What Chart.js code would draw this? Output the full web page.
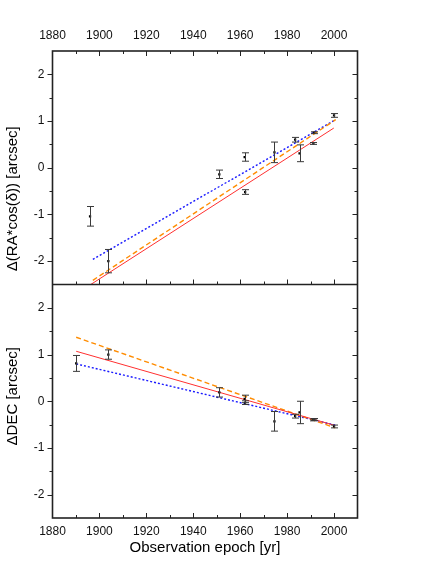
<!DOCTYPE html>
<html>
<head>
<meta charset="utf-8">
<script src="https://cdn.jsdelivr.net/npm/chart.js@4.4.0/dist/chart.umd.min.js"></script>
<style>
  html, body { margin: 0; padding: 0; background: #fff; }
  #wrap { width: 436px; height: 564px; }
</style>
</head>
<body>
<div id="wrap"><canvas id="chart" width="436" height="564"></canvas></div>
<script>
// RA offsets, top panel
const raEpochs = [1896.0, 1903.8, 1951.1, 1961.9, 1962.1, 1974.6, 1983.4, 1985.3, 1991.5, 1991.2, 2000.0];
const raValues = [-1.04, -2.00, -0.14, 0.23, -0.52, 0.33, 0.60, 0.31, 0.75, 0.52, 1.12];
const raErrors = [0.21, 0.25, 0.09, 0.09, 0.05, 0.22, 0.05, 0.18, 0.02, 0.02, 0.04];

// DEC offsets, bottom panel
const decEpochs = [1890.1, 1903.8, 1951.1, 1961.9, 1962.1, 1974.6, 1983.4, 1985.3, 1991.5, 1991.2, 2000.0];
const decValues = [0.81, 1.00, 0.19, 0.05, -0.03, -0.43, -0.32, -0.24, -0.39, -0.40, -0.54];
const decErrors = [0.17, 0.10, 0.10, 0.08, 0.04, 0.21, 0.04, 0.24, 0.02, 0.02, 0.03];

// fitted lines (end points)
const raRedEpochs = [1896.3, 1999.9];
const raRedFit = [-2.50, 0.85];
const raFitEpochs = [1897.2, 2000.7];
const raOrangeFit = [-2.41, 1.03];
const raBlueFit = [-1.96, 1.03];

const decFitEpochs = [1890.1, 2000.5];
const decOrangeFit = [1.37, -0.57];
const decRedFit = [1.07, -0.52];
const decBlueFit = [0.80, -0.51];

// ticks
const xTickLabels = [1880, 1900, 1920, 1940, 1960, 1980, 2000];
const yTickLabels = [-2, -1, 0, 1, 2];

const FONT = 'Liberation Sans, Arial, sans-serif';

function pts(xs, ys) {
  return xs.map((x, i) => ({ x: x, y: ys[i] }));
}

function lineSet(xs, ys, color, dash, width, axis) {
  return {
    type: 'line', data: pts(xs, ys), yAxisID: axis,
    borderColor: color, borderWidth: width, borderDash: dash,
    pointRadius: 0, fill: false, tension: 0, order: 2
  };
}

function pointSet(xs, ys, errs, axis) {
  return {
    type: 'scatter', data: pts(xs, ys), yAxisID: axis, errors: errs,
    pointStyle: 'rect', pointRadius: 1.6, backgroundColor: '#000', borderColor: '#000',
    borderWidth: 0, order: 1
  };
}

// vertical error bars with caps
const errorBars = {
  id: 'errorBars',
  afterDatasetsDraw(chart) {
    const ctx = chart.ctx;
    const xs = chart.scales.x;
    chart.data.datasets.forEach(ds => {
      if (!ds.errors) return;
      const ys = chart.scales[ds.yAxisID];
      ctx.save();
      ctx.strokeStyle = '#3a3a3a';
      ctx.lineWidth = 1;
      ds.data.forEach((p, i) => {
        const px = Math.round(xs.getPixelForValue(p.x)) + 0.5;
        const y1 = ys.getPixelForValue(p.y + ds.errors[i]);
        const y2 = ys.getPixelForValue(p.y - ds.errors[i]);
        ctx.beginPath();
        ctx.moveTo(px, y1); ctx.lineTo(px, y2);
        ctx.moveTo(px - 3.5, y1); ctx.lineTo(px + 3.5, y1);
        ctx.moveTo(px - 3.5, y2); ctx.lineTo(px + 3.5, y2);
        ctx.stroke();
      });
      ctx.restore();
    });
  }
};

// frame, inner/outer tick marks, y titles
const framePlugin = {
  id: 'frame',
  afterDraw(chart) {
    const { ctx, chartArea: a, scales } = chart;
    const xs = scales.x, top = scales.yRA, bot = scales.yDEC;
    ctx.save();
    ctx.strokeStyle = '#222';
    ctx.lineWidth = 1;
    ctx.beginPath();
    for (let yr = 1890; yr < 2010; yr += 10) {
      const len = yr % 20 === 0 ? 5 : 3;
      const px = Math.round(xs.getPixelForValue(yr)) + 0.5;
      ctx.moveTo(px, top.top); ctx.lineTo(px, top.top + len);
      ctx.moveTo(px, top.bottom); ctx.lineTo(px, top.bottom - len);
      ctx.moveTo(px, bot.bottom); ctx.lineTo(px, bot.bottom - len);
    }
    [top, bot].forEach(s => {
      for (let v = -2; v <= 2; v += 0.5) {
        const len = Number.isInteger(v) ? 5 : 3;
        const py = Math.round(s.getPixelForValue(v)) + 0.5;
        ctx.moveTo(a.left, py); ctx.lineTo(a.left - len, py);
        ctx.moveTo(a.right, py); ctx.lineTo(a.right - len, py);
      }
    });
    ctx.stroke();
    ctx.lineWidth = 1.6;
    ctx.strokeRect(a.left, a.top, a.right - a.left, a.bottom - a.top);
    ctx.beginPath();
    ctx.moveTo(a.left, top.bottom); ctx.lineTo(a.right, top.bottom);
    ctx.stroke();

    ctx.fillStyle = '#000';
    ctx.font = '15px ' + FONT;
    ctx.textAlign = 'center';
    ctx.textBaseline = 'middle';
    ctx.translate(13, (top.top + top.bottom) / 2 + 31);
    ctx.rotate(-Math.PI / 2);
    ctx.fillText('\u0394(RA*cos(\u03b4)) [arcsec]', 0, 0);
    ctx.restore();

    ctx.save();
    ctx.fillStyle = '#000';
    ctx.font = '15px ' + FONT;
    ctx.textAlign = 'center';
    ctx.textBaseline = 'middle';
    ctx.translate(13, (bot.top + bot.bottom) / 2 - 5);
    ctx.rotate(-Math.PI / 2);
    ctx.fillText('\u0394DEC [arcsec]', 0, 0);
    ctx.restore();
  }
};

const tickFont = { size: 12, family: FONT };

function xAxis(position, height, title) {
  return {
    type: 'linear', position: position, min: 1880, max: 2010,
    afterBuildTicks: s => { s.ticks = xTickLabels.map(v => ({ value: v })); },
    afterFit: s => { s.height = height; },
    grid: { display: false, drawTicks: false },
    border: { display: false },
    ticks: { color: '#111', font: tickFont, padding: position === 'top' ? 8 : 6, maxRotation: 0, callback: v => String(v) },
    title: title
  };
}

function yAxis(weight) {
  return {
    type: 'linear', position: 'left', stack: 'panels', stackWeight: 1, weight: weight,
    min: -2.5, max: 2.5,
    afterBuildTicks: s => { s.ticks = yTickLabels.map(v => ({ value: v })); },
    afterFit: s => { s.width = 52.5; },
    grid: { display: false, drawTicks: false },
    border: { display: false },
    ticks: { color: '#111', font: tickFont, padding: 8, callback: v => String(v) }
  };
}

new Chart(document.getElementById('chart'), {
  data: {
    datasets: [
      pointSet(raEpochs, raValues, raErrors, 'yRA'),
      lineSet(raRedEpochs, raRedFit, '#ff3030', [], 1, 'yRA'),
      lineSet(raFitEpochs, raOrangeFit, '#ff8c00', [5, 3], 1.4, 'yRA'),
      lineSet(raFitEpochs, raBlueFit, '#1a1aff', [2, 2], 1.4, 'yRA'),
      pointSet(decEpochs, decValues, decErrors, 'yDEC'),
      lineSet(decFitEpochs, decRedFit, '#ff3030', [], 1, 'yDEC'),
      lineSet(decFitEpochs, decOrangeFit, '#ff8c00', [5, 3], 1.4, 'yDEC'),
      lineSet(decFitEpochs, decBlueFit, '#1a1aff', [2, 2], 1.4, 'yDEC')
    ]
  },
  options: {
    responsive: false,
    animation: false,
    layout: { padding: { left: 0, right: 78.5, top: 0, bottom: 0 } },
    plugins: { legend: { display: false }, tooltip: { enabled: false } },
    scales: {
      x: xAxis('bottom', 46, { display: true, text: 'Observation epoch [yr]', color: '#000', font: { size: 15, family: FONT }, padding: { top: 0, bottom: 7 } }),
      x2: xAxis('top', 51, { display: false }),
      yRA: yAxis(1),
      yDEC: yAxis(0)
    }
  },
  plugins: [errorBars, framePlugin]
});
</script>
</body>
</html>
